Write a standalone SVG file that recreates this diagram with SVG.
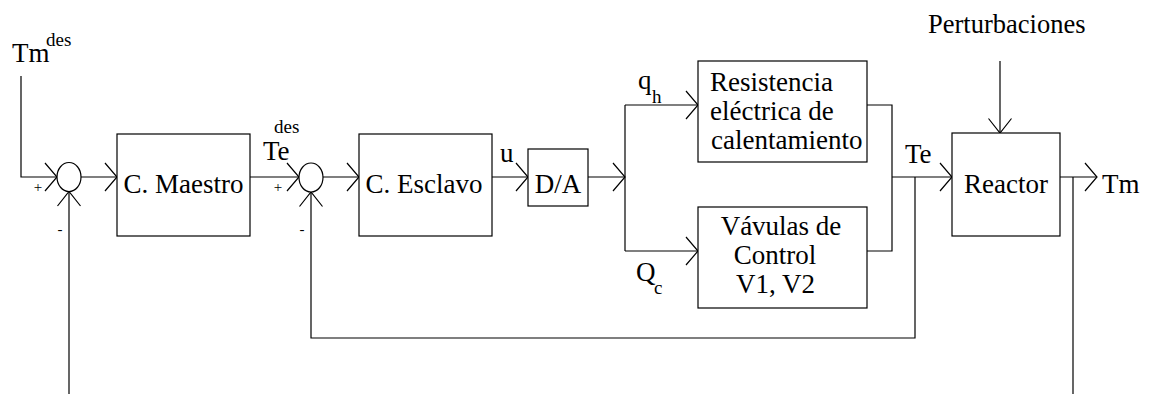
<svg xmlns="http://www.w3.org/2000/svg" width="1159" height="394" viewBox="0 0 1159 394">
  <style>
    .box { fill: #fff; stroke: #000; stroke-width: 1.2; }
    .sum { fill: #fff; stroke: #000; stroke-width: 1.2; }
    .wire { fill: none; stroke: #000; stroke-width: 1.2; }
    .lbl { font-family: "Liberation Serif", "Times New Roman", serif; font-size: 27px; fill: #000; }
    .sup { font-family: "Liberation Serif", "Times New Roman", serif; font-size: 19px; fill: #000; }
    .sign { font-family: "Liberation Serif", "Times New Roman", serif; font-size: 15px; fill: #000; text-anchor: middle; }
    .mid { text-anchor: middle; }
  </style>
  <defs>
    <!-- open chevron heads: one for horizontal runs, one for vertical runs -->
    <marker id="arrH" markerUnits="userSpaceOnUse" markerWidth="30" markerHeight="34" viewBox="-15 -17 30 34" refX="0" refY="0" orient="auto" overflow="visible">
      <path d="M-12,-14 L0,0 L-12,14" fill="none" stroke="#000" stroke-width="1.2"/>
    </marker>
    <marker id="arrV" markerUnits="userSpaceOnUse" markerWidth="30" markerHeight="34" viewBox="-15 -17 30 34" refX="0" refY="0" orient="auto" overflow="visible">
      <path d="M-14.5,-11.5 L0,0 L-14.5,11.5" fill="none" stroke="#000" stroke-width="1.2"/>
    </marker>
  </defs>

  <rect width="1159" height="394" fill="#fff"/>

  <!-- connectors -->
  <g id="connectors">
    <polyline class="wire" points="21,76 21,177 57,177" marker-end="url(#arrH)"/>
    <line class="wire" x1="81" y1="177" x2="117" y2="177" marker-end="url(#arrH)"/>
    <line class="wire" x1="69" y1="394" x2="69" y2="191.5" marker-end="url(#arrV)"/>
    <line class="wire" x1="250" y1="177" x2="299" y2="177" marker-end="url(#arrH)"/>
    <line class="wire" x1="323" y1="177" x2="359" y2="177" marker-end="url(#arrH)"/>
    <line class="wire" x1="492" y1="177" x2="528" y2="177" marker-end="url(#arrH)"/>
    <line class="wire" x1="588" y1="177" x2="625" y2="177" marker-end="url(#arrH)"/>
    <line class="wire" x1="625" y1="105" x2="625" y2="251"/>
    <line class="wire" x1="625" y1="105" x2="698" y2="105" marker-end="url(#arrH)"/>
    <line class="wire" x1="625" y1="251" x2="698" y2="251" marker-end="url(#arrH)"/>
    <polyline class="wire" points="867,105 892,105 892,251 867,251"/>
    <line class="wire" x1="892" y1="177" x2="952" y2="177" marker-end="url(#arrH)"/>
    <polyline class="wire" points="915,177 915,338 311,338 311,192" marker-end="url(#arrV)"/>
    <line class="wire" x1="1000" y1="61" x2="1000" y2="133" marker-end="url(#arrV)"/>
    <line class="wire" x1="1060" y1="177" x2="1097" y2="177" marker-end="url(#arrH)"/>
    <line class="wire" x1="1073" y1="177" x2="1073" y2="394"/>
  </g>

  <!-- signal labels -->
  <g id="signals">
    <text class="lbl" x="12" y="62">Tm</text>
    <text class="sup" x="46" y="46">des</text>
    <text class="lbl" x="263" y="160">Te</text>
    <text class="sup" x="274" y="133">des</text>
    <text class="lbl" x="500" y="162">u</text>
    <text class="lbl" x="638" y="89">q</text>
    <text class="sup" x="652" y="103">h</text>
    <text class="lbl" x="636" y="281">Q</text>
    <text class="sup" x="654" y="294">c</text>
    <text class="lbl" x="905" y="163">Te</text>
    <text class="lbl" x="928" y="33" style="font-size:26.5px">Perturbaciones</text>
    <text class="lbl" x="1102" y="193">Tm</text>
  </g>

  <g id="sum1">
    <ellipse class="sum" cx="69" cy="177" rx="12" ry="14.5"/>
    <text class="sign" x="38" y="192">+</text>
    <text class="sign" x="60" y="234">-</text>
  </g>

  <g id="maestro">
    <rect class="box" x="117" y="134" width="133" height="102"/>
    <text class="lbl mid" x="183.5" y="193">C. Maestro</text>
  </g>

  <g id="sum2">
    <ellipse class="sum" cx="311" cy="177.5" rx="12" ry="14.5"/>
    <text class="sign" x="278" y="192">+</text>
    <text class="sign" x="302" y="234">-</text>
  </g>

  <g id="esclavo">
    <rect class="box" x="359" y="134" width="133" height="102"/>
    <text class="lbl mid" x="424" y="193">C. Esclavo</text>
  </g>

  <g id="da">
    <rect class="box" x="528" y="149" width="60" height="57"/>
    <text class="lbl mid" x="558" y="193">D/A</text>
  </g>

  <g id="resistencia">
    <rect class="box" x="698" y="61" width="169" height="101"/>
    <text class="lbl" x="710" y="91">Resistencia</text>
    <text class="lbl" x="710" y="120">eléctrica de</text>
    <text class="lbl" x="711" y="148.5">calentamiento</text>
  </g>

  <g id="valvulas">
    <rect class="box" x="698" y="207" width="169" height="101"/>
    <text class="lbl mid" x="781" y="235">Vávulas de</text>
    <text class="lbl mid" x="775" y="264">Control</text>
    <text class="lbl mid" x="775.5" y="293">V1, V2</text>
  </g>

  <g id="reactor">
    <rect class="box" x="952" y="133" width="108" height="103"/>
    <text class="lbl mid" x="1006" y="193">Reactor</text>
  </g>
</svg>
